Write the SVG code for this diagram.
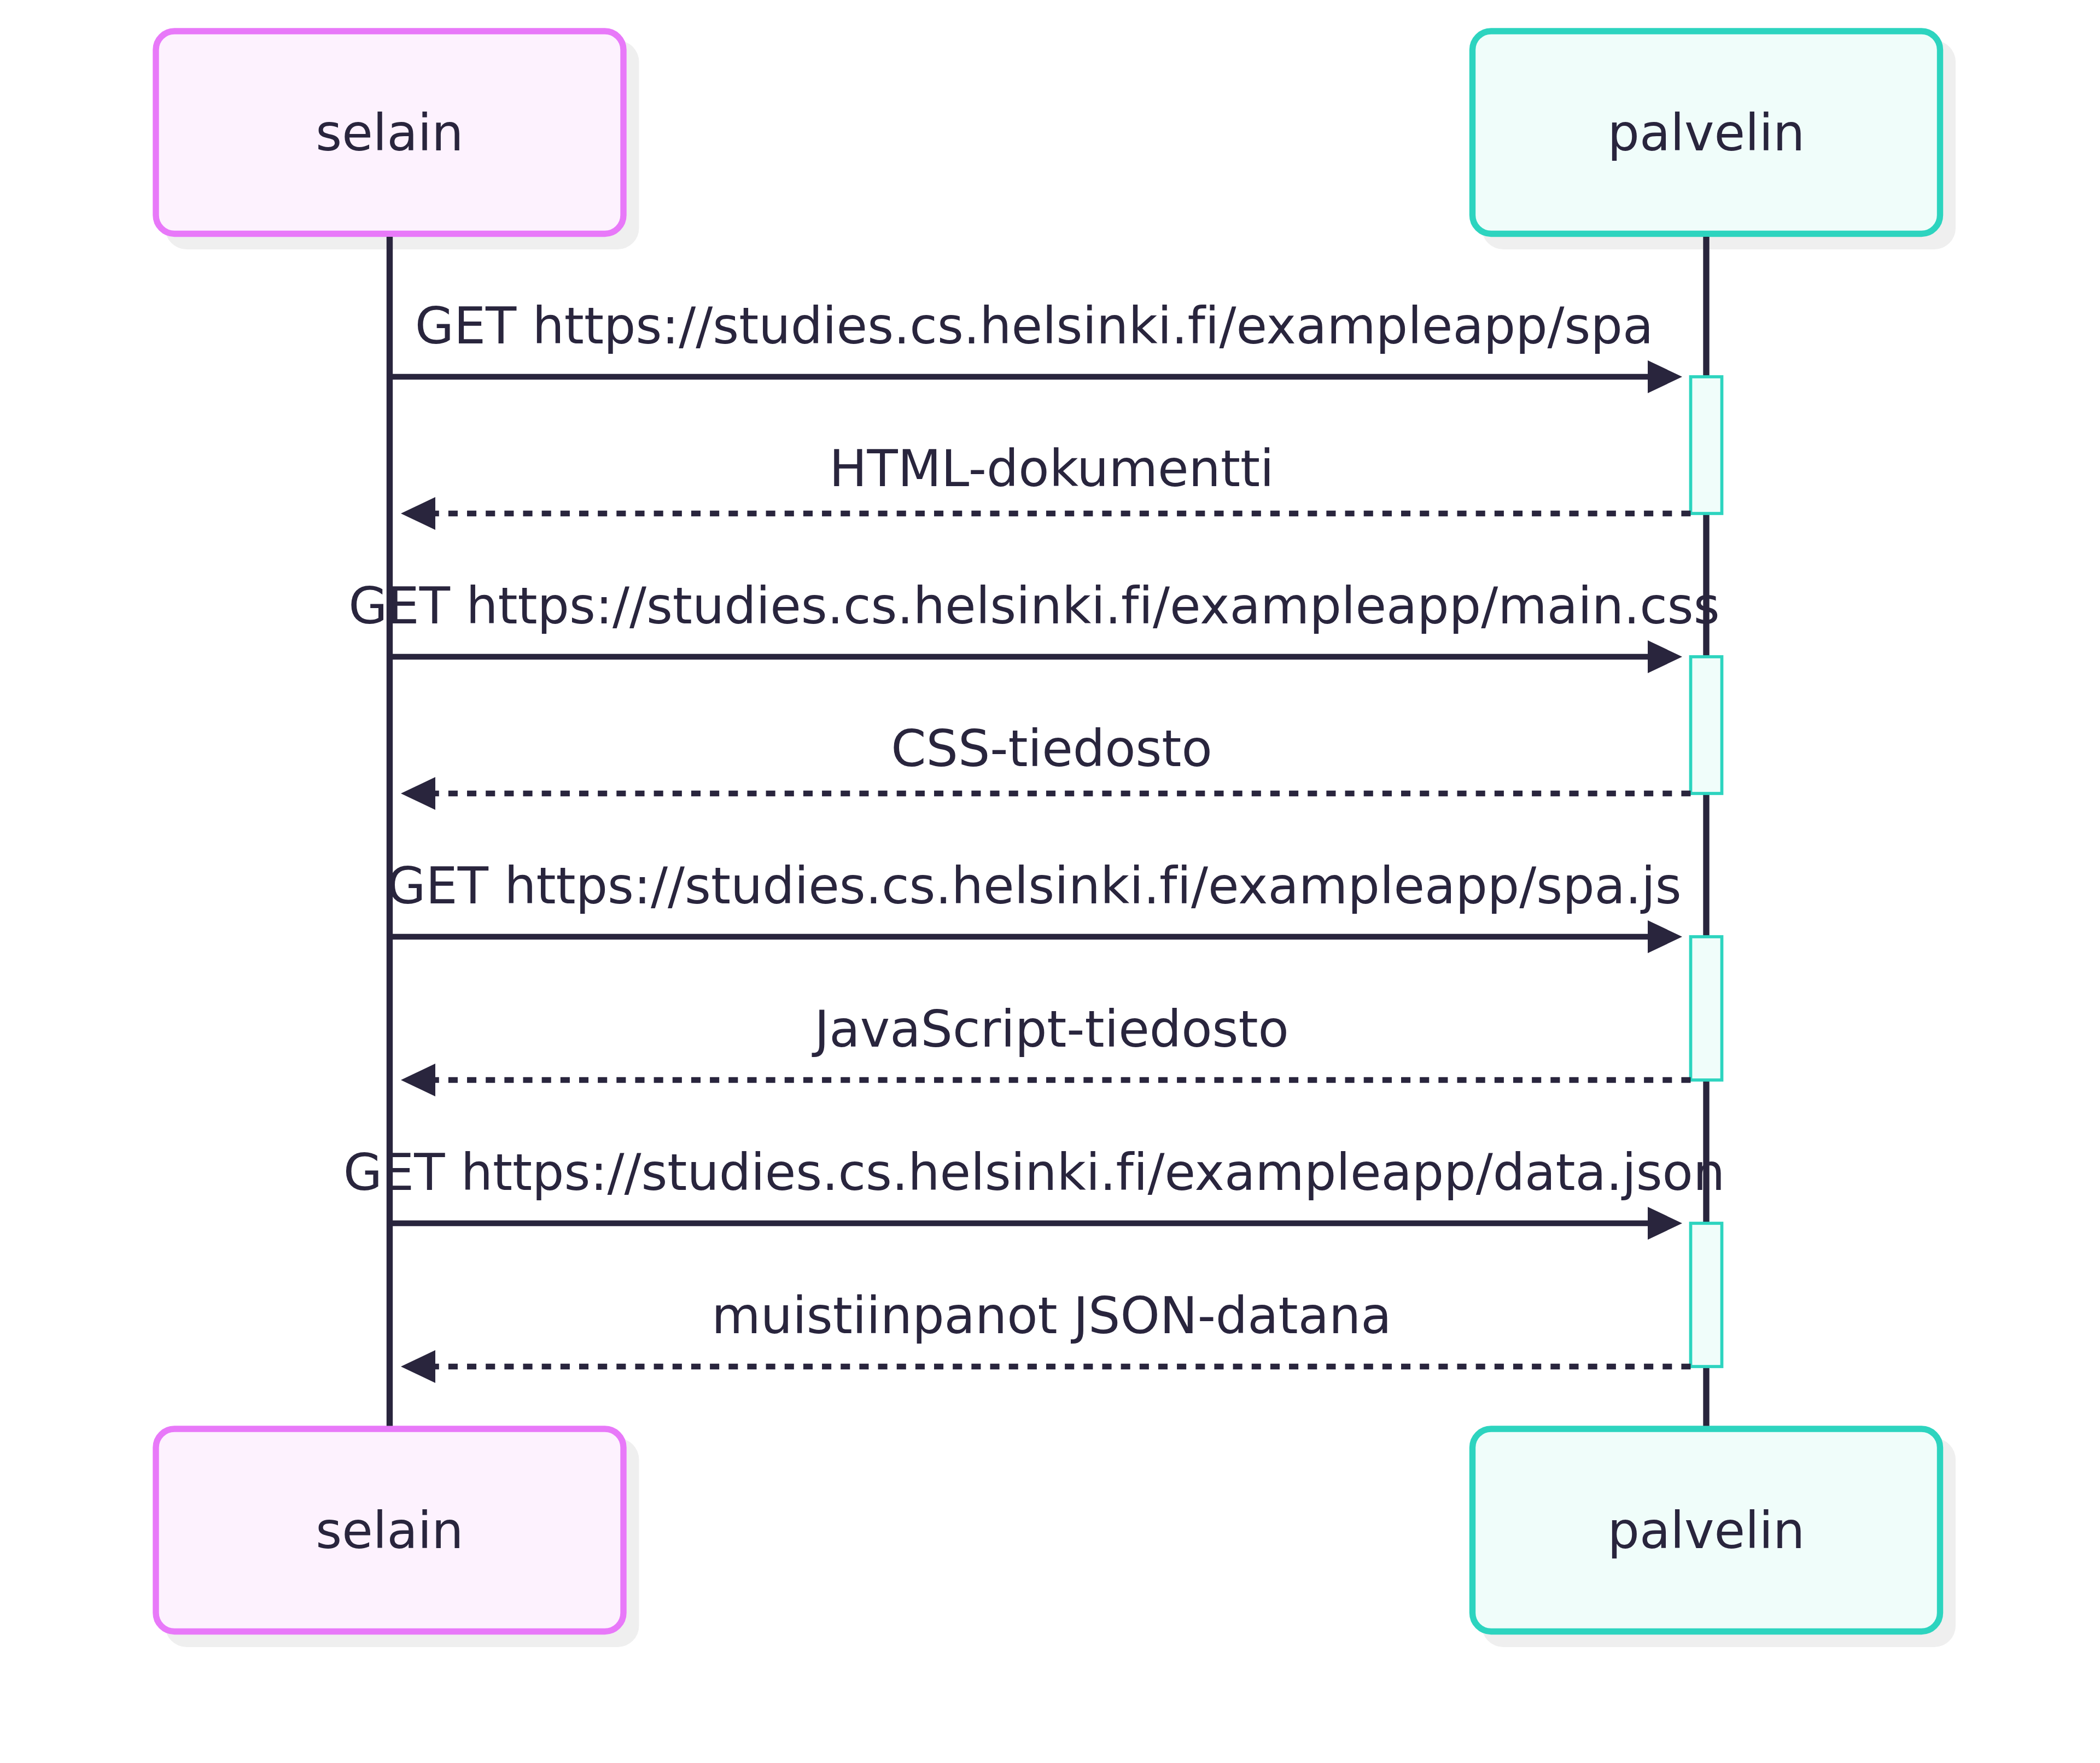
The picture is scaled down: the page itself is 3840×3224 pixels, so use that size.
<svg xmlns="http://www.w3.org/2000/svg" width="3840" height="3224" viewBox="0 0 3840 3224">
<defs>
<marker id="arrowhead" markerUnits="userSpaceOnUse" markerWidth="63" markerHeight="60" viewBox="0 0 63 60" refX="51" refY="30" orient="auto">
<path d="M0,0 L63,30 L0,60 Z" fill="#29253d"/>
</marker>
</defs>
<style>
text{font-family:"DejaVu Sans","Liberation Sans",sans-serif;font-size:92px;fill:#29253d;text-anchor:middle;font-variant-ligatures:none}
.shadow{fill:#efefef}
.selain .box{fill:#fdf2fe;stroke:#e879f9;stroke-width:11.4}
.palvelin .box{fill:#f0fdfa;stroke:#2dd4bf;stroke-width:11.4}
.lifeline{stroke:#29253d;stroke-width:11.4}
.activation{fill:#f0fdfa;stroke:#2dd4bf;stroke-width:5.7}
.msg{stroke:#29253d;stroke-width:10.5;fill:none;marker-end:url(#arrowhead)}
.reply{stroke-dasharray:17.08 17.08}
</style>
<rect x="0" y="0" width="3840" height="3224" fill="#ffffff"/>

<g id="selain-top" class="selain">
<rect class="shadow" x="302.1" y="74.1" width="866.4" height="381.9" rx="39"/>
<rect class="box" x="285" y="57" width="855" height="370.5" rx="34"/>
<text x="712.5" y="275">selain</text>
</g>
<g id="palvelin-top" class="palvelin">
<rect class="shadow" x="2709.6" y="74.1" width="866.4" height="381.9" rx="39"/>
<rect class="box" x="2692.5" y="57" width="855" height="370.5" rx="34"/>
<text x="3120" y="275">palvelin</text>
</g>
<g id="selain-bottom" class="selain">
<rect class="shadow" x="302.1" y="2630.1" width="866.4" height="381.9" rx="39"/>
<rect class="box" x="285" y="2613" width="855" height="370.5" rx="34"/>
<text x="712.5" y="2831">selain</text>
</g>
<g id="palvelin-bottom" class="palvelin">
<rect class="shadow" x="2709.6" y="2630.1" width="866.4" height="381.9" rx="39"/>
<rect class="box" x="2692.5" y="2613" width="855" height="370.5" rx="34"/>
<text x="3120" y="2831">palvelin</text>
</g>

<g id="lifelines">
<line class="lifeline" x1="712.5" y1="433" x2="712.5" y2="2607.5"/>
<line class="lifeline" x1="3120" y1="433" x2="3120" y2="2607.5"/>
</g>

<g id="activations">
<rect class="activation" x="3091.5" y="689" width="57" height="250"/>
<rect class="activation" x="3091.5" y="1201" width="57" height="250"/>
<rect class="activation" x="3091.5" y="1713" width="57" height="262"/>
<rect class="activation" x="3091.5" y="2237" width="57" height="262"/>
</g>

<g id="connectors">
<line class="msg" x1="712.5" y1="689" x2="3064" y2="689"/>
<text x="1891" y="628">GET https://studies.cs.helsinki.fi/exampleapp/spa</text>
<line class="msg reply" x1="3091.5" y1="939" x2="745" y2="939"/>
<text x="1923" y="889">HTML-dokumentti</text>
<line class="msg" x1="712.5" y1="1201" x2="3064" y2="1201"/>
<text x="1891" y="1140">GET https://studies.cs.helsinki.fi/exampleapp/main.css</text>
<line class="msg reply" x1="3091.5" y1="1451" x2="745" y2="1451"/>
<text x="1923" y="1401">CSS-tiedosto</text>
<line class="msg" x1="712.5" y1="1713" x2="3064" y2="1713"/>
<text x="1891" y="1652">GET https://studies.cs.helsinki.fi/exampleapp/spa.js</text>
<line class="msg reply" x1="3091.5" y1="1975" x2="745" y2="1975"/>
<text x="1923" y="1914">JavaScript-tiedosto</text>
<line class="msg" x1="712.5" y1="2237" x2="3064" y2="2237"/>
<text x="1891" y="2176">GET https://studies.cs.helsinki.fi/exampleapp/data.json</text>
<line class="msg reply" x1="3091.5" y1="2499" x2="745" y2="2499"/>
<text x="1923" y="2438">muistiinpanot JSON-datana</text>
</g>
</svg>
